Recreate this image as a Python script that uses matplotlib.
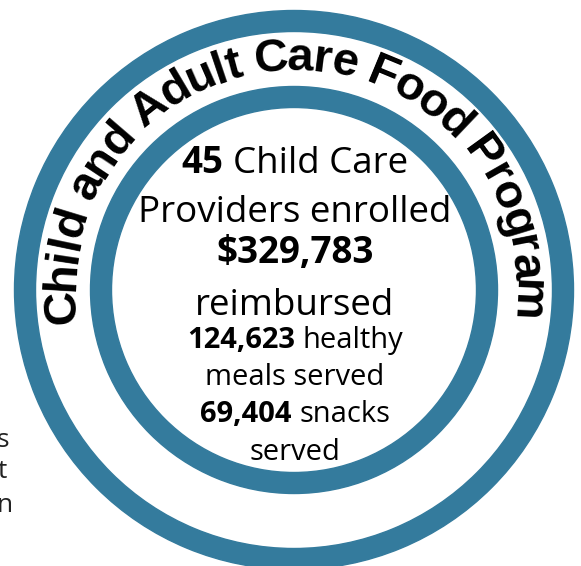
import matplotlib
matplotlib.use('Agg')
import matplotlib.pyplot as plt
from matplotlib.patches import Annulus
from matplotlib.font_manager import FontProperties
import numpy as np

# texts of the badge
title = "Child and Adult Care Food Program"
line_bold = ["45", "", "$329,783", "", "124,623", "", "69,404", ""]
line_rest = ["Child Care", "Providers enrolled", "", "reimbursed",
             "healthy", "meals served", "snacks", "served"]
# cut-off words at the left edge
edge_letters = ["s", "t", "n"]

# layout (pixels)
W, H = 581, 566
cx, cy = 294, 290
line_base = [173, 222, 263, 315, 348, 385, 422, 460]
line_size = [26.5, 26.5, 26.5, 26.5, 21, 21, 21, 21]
edge_x = [9, 7, 13]
edge_base = [447, 478, 512]
blue = '#347b9d'

fig = plt.figure(figsize=(W / 100, H / 100), dpi=100)
ax = fig.add_axes([0, 0, 1, 1])
ax.set_xlim(0, W)
ax.set_ylim(H, 0)
ax.axis('off')

# two rings
ax.add_patch(Annulus((cx, cy), 279.5, 21, color=blue))
ax.add_patch(Annulus((cx, cy), 203.5, 21, color=blue))

renderer = fig.canvas.get_renderer()


def tw(s, fp):
    return renderer.get_text_width_height_descent(s, fp, ismath=False)[0]


def space_w(fp):
    return tw("a a", fp) - tw("aa", fp)


# curved title along the outer band
fp_t = FontProperties(family='Liberation Sans', weight='bold', size=34)
adv = [space_w(fp_t) if ch == " " else tw(ch, fp_t) for ch in title]
r_base = 220
r_s = 236
start_deg, end_deg = 188.3, -7.7
span = np.radians(start_deg - end_deg) * r_s
track = (span - sum(adv)) / (len(title) - 1)
s = 0
for i, ch in enumerate(title):
    si = s + adv[i] / 2
    s += adv[i] + track
    phi = np.radians(start_deg) - si / r_s
    x = cx + r_base * np.cos(phi)
    y = cy - r_base * np.sin(phi)
    ax.text(x, y, ch, fontproperties=fp_t, rotation=np.degrees(phi) - 90,
            ha='center', va='baseline', rotation_mode='anchor', color='black')

# inner lines, bold number + regular words
for b, rest, yb, sz in zip(line_bold, line_rest, line_base, line_size):
    fb = FontProperties(family='Open Sans', weight='bold', size=sz)
    fr = FontProperties(family='Open Sans', weight='normal', size=sz)
    wb = tw(b, fb) if b else 0
    wr = tw(rest, fr) if rest else 0
    gap = space_w(fr) if (b and rest) else 0
    x0 = 295 - (wb + gap + wr) / 2
    if b:
        ax.text(x0, yb, b, fontproperties=fb, ha='left', va='baseline', color='black')
    if rest:
        ax.text(x0 + wb + gap, yb, rest, fontproperties=fr, ha='left', va='baseline', color='black')

# ends of words of a neighbouring text, cut by the left edge
for ch, x, yb in zip(edge_letters, edge_x, edge_base):
    ax.text(x, yb, ch, family='Open Sans', size=19, ha='right', va='baseline', color='#222222')

fig.savefig('out.png', dpi=100)
